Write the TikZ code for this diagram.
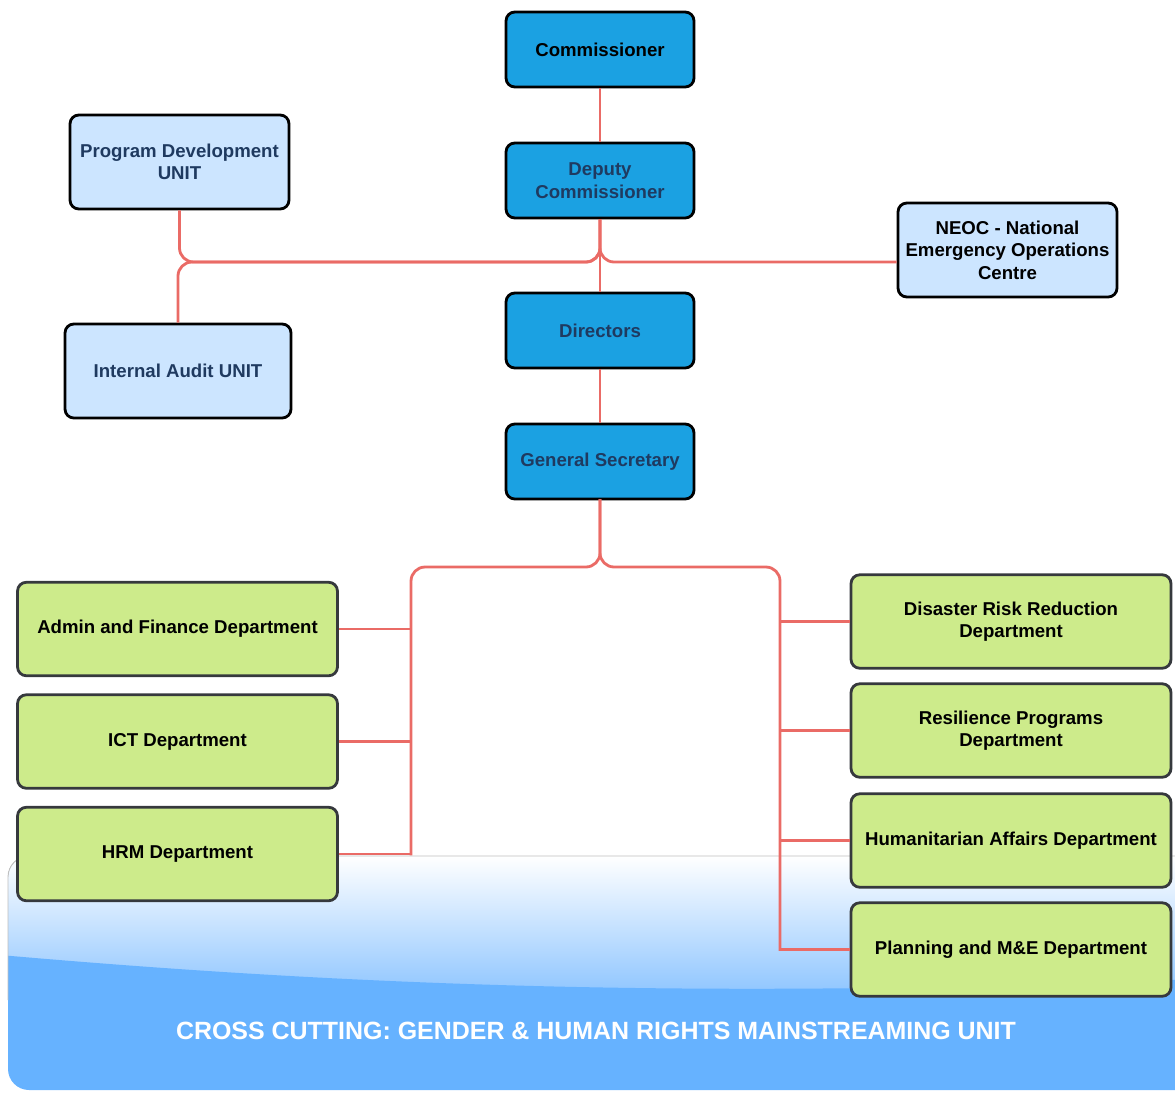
\documentclass[tikz,border=0pt]{standalone}
\usepackage{fontspec}
\setmainfont{Liberation Sans}

\definecolor{headblue}{HTML}{1BA1E2}
\definecolor{unitblue}{HTML}{CCE5FF}
\definecolor{deptgreen}{HTML}{CDEB8B}
\definecolor{deptedge}{HTML}{36393D}
\definecolor{linkred}{HTML}{EA6B66}
\definecolor{navytext}{HTML}{1F3A60}
\definecolor{bandblue}{HTML}{66B2FF}
\definecolor{bandlight}{HTML}{8EC5FF}

\begin{document}
\begin{tikzpicture}[
  x=0.02cm, y=-0.02cm,
  headbox/.style={draw=black, line width=1.6pt, rounded corners=5pt, fill=headblue,
    minimum width=3.76cm, minimum height=1.5cm, align=center,
    font=\fontsize{10.6}{12.8}\selectfont\bfseries},
  unitbox/.style={draw=black, line width=1.6pt, rounded corners=5pt, fill=unitblue,
    minimum width=4.38cm, minimum height=1.88cm, align=center,
    font=\fontsize{10.6}{12.8}\selectfont\bfseries},
  deptbox/.style={draw=deptedge, line width=1.6pt, rounded corners=5pt, fill=deptgreen,
    minimum width=6.4cm, minimum height=1.87cm, align=center,
    font=\fontsize{10.6}{12.8}\selectfont\bfseries},
  orgline/.style={draw=linkred, line width=1.6pt}
]
\useasboundingbox (0,0) rectangle (1175,1092);
% cross cutting band
\begin{scope}
  \clip[rounded corners=12pt] (8,856) rectangle (1220,1090);
  \fill[top color=white, bottom color=bandlight] (0,856) rectangle (1220,995);
  \fill[bandblue] (0,955) .. controls (400,990) and (750,998) .. (1220,978) -- (1220,1100) -- (0,1100) -- cycle;
\end{scope}
\draw[black!25, line width=0.5pt, rounded corners=12pt] (8,1000) -- (8,856) -- (1220,856);
\node[text=white, font=\fontsize{14.2}{16}\selectfont\bfseries] (crosscut) at (596,1031)
  {CROSS CUTTING: GENDER \& HUMAN RIGHTS MAINSTREAMING UNIT};

% top of the chart
\node[headbox] (commissioner) at (600,49.5) {Commissioner};
\node[headbox, text=navytext] (deputy) at (600,180.5) {Deputy\\Commissioner};
\node[headbox, text=navytext] (directors) at (600,330.5) {Directors};
\node[headbox, text=navytext] (gensec) at (600,461.5) {General Secretary};
\node[unitbox, text=navytext] (progdev) at (179.5,162) {Program Development\\UNIT};
\node[unitbox, text=navytext, minimum width=4.52cm] (audit) at (178,371) {Internal Audit UNIT};
\node[unitbox] (neoc) at (1007.5,250) {NEOC - National\\Emergency Operations\\Centre};

% departments
\node[deptbox] (admin) at (177.5,629) {Admin and Finance Department};
\node[deptbox] (ict) at (177.5,741.5) {ICT Department};
\node[deptbox] (hrm) at (177.5,854) {HRM Department};
\node[deptbox] (drr) at (1011,621.5) {Disaster Risk Reduction\\Department};
\node[deptbox] (resil) at (1011,730.5) {Resilience Programs\\Department};
\node[deptbox] (human) at (1011,840.5) {Humanitarian Affairs Department};
\node[deptbox] (plan) at (1011,949.5) {Planning and M\&E Department};

% links
\coordinate (hub) at (600,262);
\coordinate (spl) at (411,567);
\coordinate (spr) at (780,567);
\draw[orgline] (commissioner) -- (deputy);
\draw[orgline] (deputy) -- (directors);
\draw[orgline] (directors) -- (gensec);
\draw[orgline, rounded corners=8pt] (progdev.south) |- (hub) -- (deputy.south);
\draw[orgline, rounded corners=8pt] (audit.north) |- (hub) -- (deputy.south);
\draw[orgline, rounded corners=8pt] (hub -| neoc.west) -- (hub) -- (deputy.south);
\draw[orgline, rounded corners=8pt, line cap=rect] (gensec.south) |- (spl) -- (spl |- hrm.east);
\draw[orgline, rounded corners=8pt, line cap=rect] (gensec.south) |- (spr) -- (spr |- plan.west);
\foreach \n in {admin,ict,hrm}
  \draw[orgline] (\n.east) -- (\n.east -| spl);
\foreach \n in {drr,resil,human,plan}
  \draw[orgline] (\n.west) -- (\n.west -| spr);
\end{tikzpicture}
\end{document}
